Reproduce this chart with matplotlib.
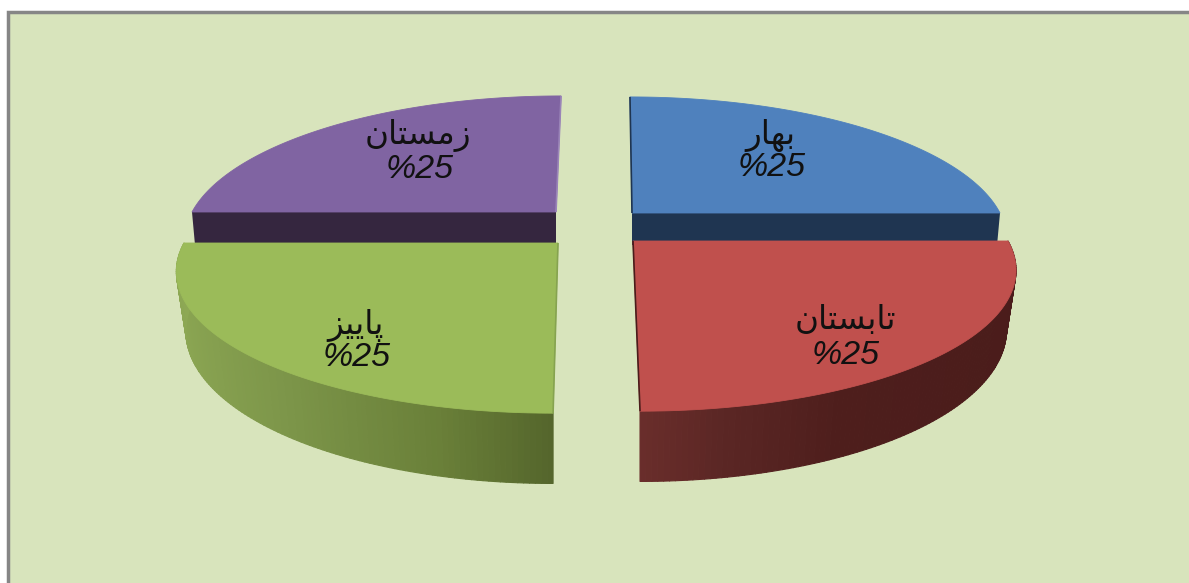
import numpy as np
import matplotlib
matplotlib.use("Agg")
import matplotlib.pyplot as plt
from matplotlib.colors import to_rgb
from matplotlib.collections import PolyCollection
from matplotlib.patches import Polygon, Rectangle

# ---- data (presentation forms in reading order, reversed when drawn)
season_names = ["\uFE91\uFEEC\uFE8E\uFEAD",
                "\uFE97\uFE8E\uFE91\uFEB4\uFE98\uFE8E\uFEE5",
                "\uFB58\uFE8E\uFBFE\uFBFF\uFEB0",
                "\uFEAF\uFEE3\uFEB4\uFE98\uFE8E\uFEE5"]
season_shares = [25, 25, 25, 25]

# ---- styles
top_colors = ["#4F81BD", "#C0504D", "#9BBB59", "#8064A2"]
cut_colors = ["#1F3551", "#4A1C1B", "#55662C", "#35263F"]
edge_colors = ["#1F3551", "#4A1C1B", "#86A350", "#9A84B8"]
wall_stops = {1: ["#6A2E2B", "#5A2624", "#4E1E1C", "#4A1C1B"],
              2: ["#8DA854", "#7C9549", "#6A8039", "#55662C"]}
apex = [(632, 213), (633, 241), (558, 243), (556, 212)]
radius_x = [368, 375, 374, 364]
lean = [2.4, 5.7, -4.0, -6.0]
label_xy = [((770, 135), (772, 167)), ((845, 320), (846, 355)),
            ((355, 325), (357, 358)), ((418, 136), (420, 169))]
S, K, DEPTH, BOTTOM_SCALE = 138.0, 0.189, 57.0, 0.975

W, H = 1189, 583
fig = plt.figure(figsize=(W / 100, H / 100), dpi=100, facecolor="#FFFFFF")
ax = fig.add_axes([0, 0, 1, 1])
ax.set_xlim(0, W)
ax.set_ylim(H, 0)
ax.axis("off")
ax.add_patch(Rectangle((7.5, 11.5), 1300, 590, fc="#D8E4BC", ec="#868686", lw=2.5))


def project(i, phi, scale=1.0, extra=0.0):
    u, v = np.sin(phi), -np.cos(phi)
    w = 1 - K * v
    x = apex[i][0] + (radius_x[i] * scale * u + lean[i] * v) / w
    y = apex[i][1] + S * v / w + extra / w
    return x, y


edges = np.cumsum([0] + season_shares) / sum(season_shares) * 2 * np.pi


def wedge(i):
    phi = np.linspace(edges[i], edges[i + 1], 121)
    return phi, project(i, phi)


# back wedges first, then the nearer wedges
for i in [0, 3, 1, 2]:
    phi, (x, y) = wedge(i)
    ax_, ay_ = apex[i]
    if i in (0, 3):
        # the flat cut face seen from the front, narrowing slightly downward
        rim = x[-1] if i == 0 else x[0]
        rim_low = ax_ + (rim - ax_) * 0.992
        ax.add_patch(Polygon([(ax_, ay_), (rim, ay_), (rim_low, ay_ + 32), (ax_, ay_ + 32)],
                             fc=cut_colors[i], ec="none", zorder=2))
    else:
        xb, yb = project(i, phi, BOTTOM_SCALE, DEPTH)
        quads = [[(x[j], y[j]), (x[j + 1], y[j + 1]), (xb[j + 1], yb[j + 1]), (xb[j], yb[j])]
                 for j in range(len(phi) - 1)]
        t = np.abs(np.sin(phi[:-1]))
        if i == 1:
            pos = np.interp(t, [0, 0.2, 0.45, 1], [0, 1, 2, 3])
        else:
            pos = np.interp(t, [0, 0.25, 0.6, 1], [3, 2, 1, 0])
        stops = np.array([to_rgb(c) for c in wall_stops[i]])
        cols = np.column_stack([np.interp(pos, range(4), stops[:, c]) for c in range(3)])
        ax.add_collection(PolyCollection(quads, facecolors=cols, edgecolors=cols, lw=0.8, zorder=3))
    pts = [(ax_, ay_)] + list(zip(x, y))
    ax.add_patch(Polygon(pts, closed=True, fc=top_colors[i], ec=top_colors[i], lw=0.6, zorder=4))
    # thin rim along the straight edge at the centre gap
    j = 0 if i in (0, 2) else -1
    ax.plot([ax_, x[j]], [ay_, y[j]], color=edge_colors[i], lw=1.2, zorder=5,
            solid_capstyle="butt")

for i, (name, share) in enumerate(zip(season_names, season_shares)):
    (nx, ny), (px, py) = label_xy[i]
    ax.text(nx, ny, name[::-1], family="DejaVu Sans", fontsize=23.5, color="#111111",
            ha="center", va="center", zorder=6)
    ax.text(px, py, f"%{share}", family="Liberation Sans", style="italic", fontsize=24.5,
            color="#111111", ha="center", va="center", zorder=6)

fig.savefig("out.png", dpi=100, facecolor=fig.get_facecolor())
